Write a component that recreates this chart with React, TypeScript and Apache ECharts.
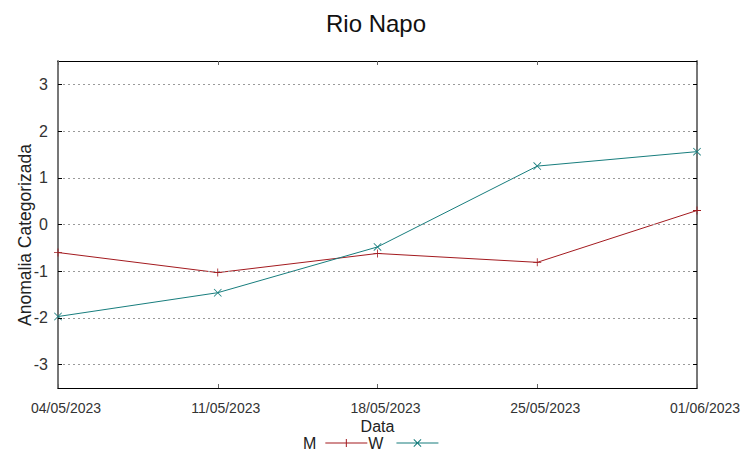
import React, { useEffect, useRef } from "react";
import * as echarts from "echarts";

const categories = ["04/05/2023", "11/05/2023", "18/05/2023", "25/05/2023", "01/06/2023"];
const seriesM = [-0.6, -1.03, -0.62, -0.81, 0.3];
const seriesW = [-1.97, -1.46, -0.48, 1.25, 1.56];
const yTicks = [-3, -2, -1, 0, 1, 2, 3];

const RED = "#a31a1f";
const TEAL = "#177d7d";

const plusSym = "path://M0 4.5h10v1H0zM4.5 0h1v10h-1z";
const crossSym = "path://M0 0.7L0.7 0L10 9.3L9.3 10ZM9.3 0L10 0.7L0.7 10L0 9.3Z";
const legendPlus = "path://M0 4.5h42v1H0zM20.5 1h1v8h-1z";
const legendCross = "path://M0 4.5h42v1H0zM17 1.7L17.7 1L25 8.3L24.3 9ZM24.3 1L25 1.7L17.7 9L17 8.3Z";

export default function App() {
  const ref = useRef<HTMLDivElement>(null);
  useEffect(() => {
    if (!ref.current) return;
    const chart = echarts.init(ref.current, null, { renderer: "svg" });
    const font = "Liberation Sans, Arial, sans-serif";
    chart.setOption({
      animation: false,
      backgroundColor: "#fff",
      title: {
        text: "Rio Napo",
        left: "center",
        top: 6,
        textStyle: { fontFamily: font, fontSize: 24, fontWeight: "normal", color: "#111" },
      },
      grid: { left: 58, right: 55, top: 61, bottom: 70, containLabel: false },
      legend: {
        left: 303,
        top: 435,
        padding: 0,
        align: "right",
        itemWidth: 42,
        itemHeight: 10,
        itemGap: 1,
        textStyle: { fontFamily: font, fontSize: 16, color: "#222" },
        data: [
          { name: "M", icon: legendPlus, itemStyle: { color: RED }, textStyle: { padding: [0, 4, 0, 0] } },
          { name: "W", icon: legendCross, itemStyle: { color: TEAL }, textStyle: { padding: [0, 8, 0, 0] } },
        ],
      },
      xAxis: [
        {
          type: "category",
          data: categories,
          boundaryGap: false,
          name: "Data",
          nameLocation: "middle",
          nameGap: 30,
          nameMoveOverlap: false,
          nameTextStyle: { fontFamily: font, fontSize: 16, color: "#222" },
          axisLine: { onZero: false, lineStyle: { color: "#000", width: 1 } },
          axisTick: { inside: true, length: 4, lineStyle: { color: "#666" } },
          axisLabel: {
            fontFamily: font,
            fontSize: 14,
            color: "#333",
            margin: 13,
            padding: [0, 0, 0, 16],
            interval: 0,
          },
          splitLine: { show: false },
        },
        {
          type: "category",
          data: categories,
          boundaryGap: false,
          position: "top",
          axisLine: { onZero: false, lineStyle: { color: "#000", width: 1 } },
          axisTick: { inside: true, length: 4, lineStyle: { color: "#666" } },
          axisLabel: { show: false },
          splitLine: { show: false },
        },
      ],
      yAxis: [
        {
          type: "value",
          min: -3.5,
          max: 3.5,
          interval: 0.5,
          name: "Anomalia Categorizada",
          nameLocation: "middle",
          nameGap: 24,
          nameMoveOverlap: false,
          nameTextStyle: { fontFamily: font, fontSize: 17.5, color: "#222", padding: [0, 21, 0, 0] },
          axisLine: { show: true, onZero: false, lineStyle: { color: "#777", width: 2 } },
          axisTick: { show: false },
          axisLabel: {
            fontFamily: font,
            fontSize: 16,
            color: "#333",
            margin: 10,
            formatter: (v: number) => (yTicks.indexOf(v) >= 0 ? String(v) : ""),
          },
          splitLine: { show: false },
        },
        {
          type: "value",
          min: -3.5,
          max: 3.5,
          interval: 0.5,
          position: "right",
          axisLine: { show: true, onZero: false, lineStyle: { color: "#777", width: 2 } },
          axisTick: { show: false },
          axisLabel: { show: false },
          splitLine: { show: false },
        },
      ],
      series: [
        {
          name: "grid",
          type: "line",
          data: [],
          silent: true,
          markLine: {
            silent: true,
            symbol: "none",
            label: { show: false },
            lineStyle: { color: "#9a9a9a", type: [2, 3], width: 1 },
            data: yTicks.map((v) => ({ yAxis: v })),
          },
        },
        {
          name: "ticksL",
          type: "line",
          data: [],
          silent: true,
          markLine: {
            silent: true,
            symbol: "none",
            label: { show: false },
            lineStyle: { color: "#000", type: "solid", width: 1 },
            data: yTicks.flatMap((v) => [
              [{ x: 58, yAxis: v }, { x: 62, yAxis: v }],
              [{ x: 693, yAxis: v }, { x: 697, yAxis: v }],
            ]),
          },
        },
        {
          name: "M",
          type: "line",
          data: seriesM,
          symbol: plusSym,
          symbolSize: 8,
          lineStyle: { color: RED, width: 1 },
          itemStyle: { color: RED },
          z: 3,
        },
        {
          name: "W",
          type: "line",
          data: seriesW,
          symbol: crossSym,
          symbolSize: 8,
          lineStyle: { color: TEAL, width: 1 },
          itemStyle: { color: TEAL },
          z: 3,
        },
      ],
    });
    return () => chart.dispose();
  }, []);
  return <div ref={ref} style={{ width: 752, height: 458, margin: -8 }} />;
}
